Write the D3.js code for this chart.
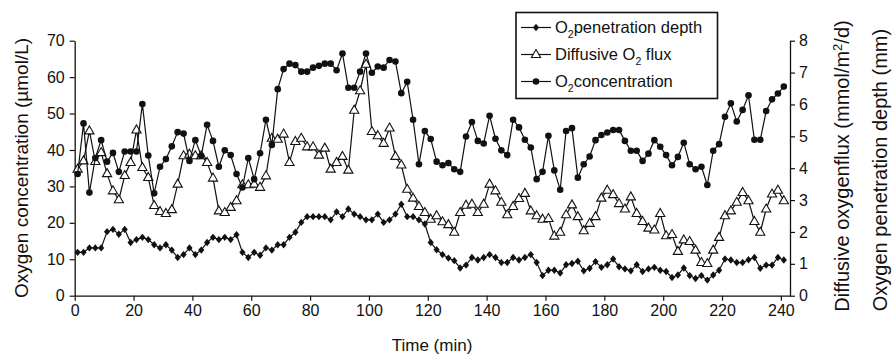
<!DOCTYPE html>
<html>
<head>
<meta charset="utf-8">
<script src="https://cdn.jsdelivr.net/npm/d3@7"></script>
<style>
html,body{margin:0;padding:0;background:#fff;}
svg{display:block;}
text{font-family:"Liberation Sans",Arial,Helvetica,sans-serif;fill:#111;}
</style>
</head>
<body>
<svg id="chart" width="896" height="359"></svg>
<script>
const time = [1,3,5,7,9,11,13,15,17,19,21,23,25,27,29,31,33,35,37,39,41,43,45,47,49,51,53,55,57,59,61,63,65,67,69,71,73,75,77,79,81,83,85,87,89,91,93,95,97,99,101,103,105,107,109,111,113,115,117,119,121,123,125,127,129,131,133,135,137,139,141,143,145,147,149,151,153,155,157,159,161,163,165,167,169,171,173,175,177,179,181,183,185,187,189,191,193,195,197,199,201,203,205,207,209,211,213,215,217,219,221,223,225,227,229,231,233,235,237,239,241];

// O2 penetration depth (mm) - right axis
const depth = [1.36,1.36,1.50,1.50,1.50,2.01,2.08,1.93,2.08,1.67,1.76,1.83,1.76,1.60,1.50,1.60,1.43,1.20,1.29,1.50,1.29,
1.43,1.67,1.83,1.76,1.83,1.76,1.91,1.36,1.20,1.36,1.27,1.50,1.43,1.60,1.60,1.83,1.99,2.30,2.48,2.48,
2.48,2.48,2.38,2.63,2.48,2.72,2.56,2.48,2.38,2.38,2.56,2.30,2.38,2.56,2.87,2.48,2.48,2.38,2.25,1.67,
1.44,1.29,1.18,1.10,0.87,0.96,1.20,1.12,1.20,1.29,1.20,1.04,1.04,1.20,1.12,1.20,1.29,1.04,0.63,0.80,
0.80,0.71,0.97,1.01,1.08,0.78,0.86,1.07,0.89,0.97,1.15,0.91,0.84,0.78,0.97,0.76,0.84,0.89,0.80,0.76,
0.57,0.65,0.87,0.63,0.54,0.63,0.49,0.65,0.80,1.15,1.12,1.04,1.04,1.13,1.20,0.86,0.96,0.96,1.20,1.12];

// Diffusive O2 flux (mmol/m2/d) - right axis
const flux = [3.97,4.23,5.17,4.21,4.49,3.83,3.29,3.01,3.77,4.18,5.20,4.02,3.71,2.83,2.64,2.58,2.70,3.50,4.39,4.44,4.39,
4.39,4.18,3.69,2.66,2.61,2.77,2.98,3.48,3.48,3.50,3.40,3.76,4.94,4.91,5.07,4.18,4.84,4.94,4.67,4.67,
4.41,4.63,3.97,4.18,4.37,3.94,5.82,6.43,7.26,5.15,5.02,4.78,5.26,4.37,4.10,3.34,3.06,2.80,2.61,2.40,
2.51,2.32,2.23,1.99,2.61,2.84,2.87,2.61,2.87,3.50,3.29,2.93,2.54,2.80,3.05,3.21,2.66,2.51,2.40,2.42,
1.87,1.99,2.54,2.85,2.48,2.04,2.27,2.48,3.06,3.31,3.17,2.89,2.72,3.10,2.58,2.33,2.12,2.06,2.58,1.88,
1.92,1.39,1.75,1.70,1.43,1.04,1.01,1.43,1.83,2.51,2.66,2.93,3.24,2.98,2.33,1.99,2.72,3.19,3.31,2.98];

// O2 concentration (umol/L) - left axis
const conc = [33.4,47.3,28.3,37.8,42.7,36.8,39.2,34.0,39.6,39.6,39.6,52.6,38.5,28.1,35.4,37.5,41.0,44.9,44.5,37.0,42.7,
38.4,46.9,42.5,35.4,39.9,38.6,33.4,29.7,37.8,32.0,39.1,48.3,41.4,56.7,62.2,63.7,63.3,61.5,61.5,62.6,
63.1,63.7,63.7,61.9,66.5,57.1,57.1,61.5,66.5,61.2,62.9,62.6,64.7,64.3,55.6,58.7,48.3,36.1,45.2,43.0,
36.8,35.8,36.4,34.7,34.0,43.7,47.7,42.5,41.8,49.4,43.1,39.9,38.6,48.3,46.2,42.8,40.7,32.0,34.0,43.9,
34.4,29.1,45.2,46.0,32.4,36.1,38.2,42.7,44.1,44.8,45.5,45.5,42.5,39.8,39.8,37.0,39.0,42.7,40.9,38.6,
35.8,38.1,42.0,36.1,34.7,35.4,30.4,39.8,41.6,49.1,52.8,47.8,51.0,55.0,42.8,42.8,50.7,53.9,55.5,57.4];

const xTicks = [0,20,40,60,80,100,120,140,160,180,200,220,240];
const leftTicks = [0,10,20,30,40,50,60,70];
const rightTicks = [0,1,2,3,4,5,6,7,8];

const svg = d3.select("#chart");
const X0 = 74.7, X1 = 790, Y0 = 295.7, Y1 = 40.7;

const x = d3.scaleLinear().domain([0, 243.1]).range([X0, X1]);
const yL = d3.scaleLinear().domain([0, 70]).range([Y0, Y1]);
const yR = d3.scaleLinear().domain([0, 8]).range([Y0, Y1]);

function styleAxis(g){
  g.selectAll("path.domain").attr("stroke","#111").attr("stroke-width",1.3);
  g.selectAll(".tick line").attr("stroke","#111").attr("stroke-width",1.2);
  g.selectAll(".tick text").attr("font-size",16).attr("fill","#111")
    .attr("font-family","'Liberation Sans',Arial,sans-serif");
}

svg.append("g").attr("transform",`translate(0,${Y0})`)
  .call(d3.axisBottom(x).tickValues(xTicks).tickSize(5).tickSizeOuter(0).tickPadding(4))
  .call(styleAxis);
svg.append("g").attr("transform",`translate(${X0},0)`)
  .call(d3.axisLeft(yL).tickValues(leftTicks).tickSize(5).tickSizeOuter(0).tickPadding(5))
  .call(styleAxis);
svg.append("g").attr("transform",`translate(${X1},0)`)
  .call(d3.axisRight(yR).tickValues(rightTicks).tickSize(5).tickSizeOuter(0).tickPadding(4))
  .call(styleAxis);

// series
const idx = d3.range(time.length);
const lineDepth = d3.line().x(i=>x(time[i])).y(i=>yR(depth[i]));
const lineFlux = d3.line().x(i=>x(time[i])).y(i=>yR(flux[i]));
const lineConc = d3.line().x(i=>x(time[i])).y(i=>yL(conc[i]));

const diamond = "M0,-3.7L3.1,0L0,3.7L-3.1,0Z";
const tri = "M0,-5L4.6,3L-4.6,3Z";

const gD = svg.append("g");
gD.append("path").attr("d",lineDepth(idx)).attr("fill","none").attr("stroke","#111").attr("stroke-width",1.2);
gD.selectAll("path.m").data(idx).join("path").attr("class","m")
  .attr("transform",i=>`translate(${x(time[i])},${yR(depth[i])})`).attr("d",diamond).attr("fill","#111");

const gF = svg.append("g");
gF.append("path").attr("d",lineFlux(idx)).attr("fill","none").attr("stroke","#111").attr("stroke-width",1.2);
gF.selectAll("path.m").data(idx).join("path").attr("class","m")
  .attr("transform",i=>`translate(${x(time[i])},${yR(flux[i])})`).attr("d",tri)
  .attr("fill","#fff").attr("stroke","#111").attr("stroke-width",1.1);

const gC = svg.append("g");
gC.append("path").attr("d",lineConc(idx)).attr("fill","none").attr("stroke","#111").attr("stroke-width",1.2);
gC.selectAll("circle").data(idx).join("circle")
  .attr("cx",i=>x(time[i])).attr("cy",i=>yL(conc[i])).attr("r",3.3).attr("fill","#111");

// legend
const lg = svg.append("g");
lg.append("rect").attr("x",516).attr("y",12.5).attr("width",201.5).attr("height",86)
  .attr("fill","#fff").attr("stroke","#111").attr("stroke-width",1.6);
const rows = [
  {y:27.5, pre:"O", sub:"2", post:"penetration depth", mk:"d"},
  {y:54.5, pre:"Diffusive O", sub:"2", post:" flux", mk:"t"},
  {y:81.5, pre:"O", sub:"2", post:"concentration", mk:"c"}
];
rows.forEach(r=>{
  lg.append("line").attr("x1",521).attr("x2",551).attr("y1",r.y).attr("y2",r.y).attr("stroke","#111").attr("stroke-width",1.2);
  if(r.mk==="d") lg.append("path").attr("d",diamond).attr("transform",`translate(536,${r.y})`).attr("fill","#111");
  if(r.mk==="t") lg.append("path").attr("d",tri).attr("transform",`translate(536,${r.y})`).attr("fill","#fff").attr("stroke","#111").attr("stroke-width",1.1);
  if(r.mk==="c") lg.append("circle").attr("cx",536).attr("cy",r.y).attr("r",3.3).attr("fill","#111");
  const t = lg.append("text").attr("x",555).attr("y",r.y+5.5).attr("font-size",16.5);
  t.append("tspan").text(r.pre);
  t.append("tspan").attr("font-size",10.5).attr("dy",4.5).text(r.sub);
  t.append("tspan").attr("dy",-4.5).text(r.post);
});

// axis titles
svg.append("text").attr("x",432).attr("y",351).attr("text-anchor","middle").attr("font-size",17).text("Time (min)");
svg.append("text").attr("transform","translate(28,168) rotate(-90)").attr("text-anchor","middle").attr("font-size",19)
  .text("Oxygen concentration (\u00b5mol/L)");
const rt1 = svg.append("text").attr("transform","translate(849,166) rotate(-90)").attr("text-anchor","middle").attr("font-size",20);
rt1.append("tspan").text("Diffusive oxygenflux (mmol/m");
rt1.append("tspan").attr("font-size",13).attr("dy",-7).text("2");
rt1.append("tspan").attr("dy",7).text("/d)");
svg.append("text").attr("transform","translate(887,170) rotate(-90)").attr("text-anchor","middle").attr("font-size",20)
  .text("Oxygen penetration depth (mm)");
</script>
</body>
</html>
